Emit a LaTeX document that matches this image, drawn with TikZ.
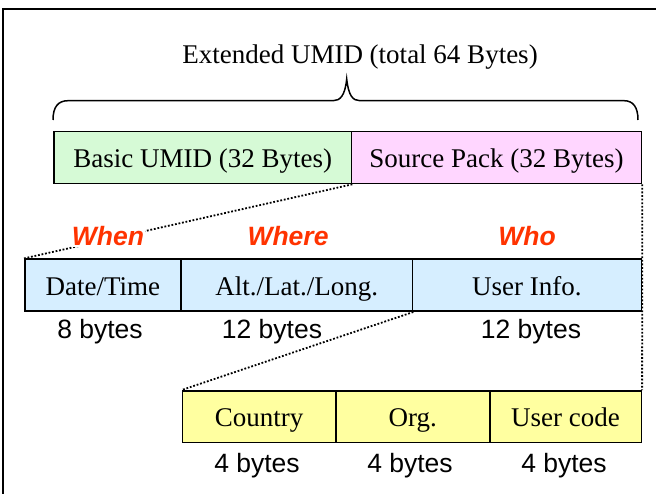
\documentclass[tikz,border=0pt]{standalone}
\usepackage{fontspec}
\setmainfont{Liberation Serif}
\newfontfamily\arialfont{Liberation Sans}
\definecolor{cgreen}{RGB}{214,250,214}
\definecolor{cpink}{RGB}{255,214,255}
\definecolor{cblue}{RGB}{214,238,255}
\definecolor{cyellow}{RGB}{255,255,160}
\definecolor{cred}{RGB}{255,51,0}
\tikzset{
  cell/.style={draw=black, line width=1.6pt, inner sep=0pt, anchor=north west,
    font=\fontsize{27}{32}\selectfont, text height=20pt, text depth=0pt},
  lbl/.style={inner sep=0pt, anchor=base, font=\arialfont\fontsize{26.5}{30}\selectfont},
  qlbl/.style={inner sep=1pt, anchor=base, fill=white, text=cred,
    font=\arialfont\bfseries\itshape\fontsize{26.5}{30}\selectfont},
  link/.style={line width=1.8pt, dash pattern=on 1.8pt off 1.8pt},
}
\begin{document}
\begin{tikzpicture}[x=1pt,y=-1pt]
\useasboundingbox (0,0) rectangle (656,494);
% frame
\draw[line width=1.3pt] (3,494) -- (3,9) -- (656,9);
% title
\node[inner sep=0pt, anchor=base, font=\fontsize{27}{32}\selectfont] (title) at (360,64) {Extended UMID (total 64 Bytes)};
% brace
\draw[line width=1.5pt] (53,120) .. controls (53,107) and (58,100.7) .. (68,100.7) -- (333,100.7)
  .. controls (340,100.7) and (345,96) .. (346.7,79)
  .. controls (348.5,96) and (353,100.7) .. (360,100.7) -- (624,100.7)
  .. controls (633,100.7) and (638,107) .. (638,120);
% row 1
\node[cell, fill=cgreen, minimum width=297.4pt, minimum height=52pt] (basic) at (53.3,130.7) {Basic UMID (32 Bytes)};
\node[cell, fill=cpink, minimum width=290pt, minimum height=52pt] (source) at (350.7,130.7) {Source Pack (32 Bytes)};
% row 2
\node[cell, fill=cblue, minimum width=156.3pt, minimum height=52pt] (date) at (24,258.4) {Date/Time};
\node[cell, fill=cblue, minimum width=231.4pt, minimum height=52pt] (alt) at (180.3,258.4) {Alt./Lat./Long.};
\node[cell, fill=cblue, minimum width=228.8pt, minimum height=52pt] (user) at (411.7,258.4) {User Info.};
% row 3
\node[cell, fill=cyellow, minimum width=153.3pt, minimum height=51.7pt] (country) at (181.7,390) {Country};
\node[cell, fill=cyellow, minimum width=154pt, minimum height=51.7pt] (org) at (335,390) {Org.};
\node[cell, fill=cyellow, minimum width=151.5pt, minimum height=51.7pt] (ucode) at (489,390) {User code};
% connectors
\draw[link] (basic.south east) -- (date.north west);
\draw[link] (alt.south east) -- (country.north west);
\draw[link] (source.south east) -- (ucode.north east);
% question labels
\node[qlbl] (when) at (108,246) {When};
\node[qlbl] (where) at (288,246) {Where};
\node[qlbl] (who) at (527,246) {Who};
% byte labels
\node[lbl] (b8) at (100,338) {8 bytes};
\node[lbl] (b12a) at (272,338) {12 bytes};
\node[lbl] (b12b) at (531,338) {12 bytes};
\node[lbl] (b4a) at (257,472) {4 bytes};
\node[lbl] (b4b) at (410,472) {4 bytes};
\node[lbl] (b4c) at (564,472) {4 bytes};
\end{tikzpicture}
\end{document}
